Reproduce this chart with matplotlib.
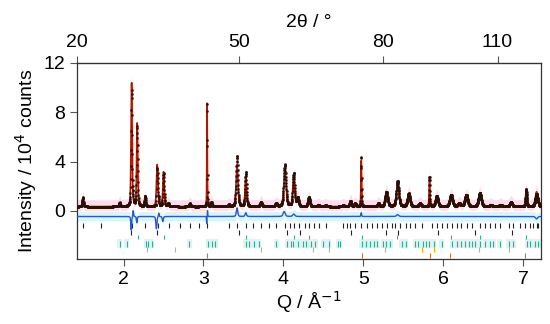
import numpy as np
import matplotlib
matplotlib.use('Agg')
import matplotlib.pyplot as plt

plt.rcParams['font.family'] = ['Liberation Sans', 'DejaVu Sans']

wavelength = 1.5406  # Cu K-alpha, A
background = 0.35

# peaks of the calculated profile: position (1/A), height (10^4 counts), fwhm (1/A)
peak_q = [1.49, 1.95, 2.10, 2.17, 2.27, 2.42, 2.50, 2.56, 2.83, 3.045, 3.10, 3.32,
          3.42, 3.53, 3.72, 3.91, 4.02, 4.13, 4.18, 4.32, 4.44, 4.53, 4.75, 4.84,
          4.90, 4.975, 5.19, 5.29, 5.43, 5.57, 5.71, 5.83, 5.92, 6.10, 6.20, 6.29,
          6.46, 6.60, 6.72, 6.85, 7.04, 7.17]
peak_h = [0.75, 0.32, 10.1, 6.8, 0.85, 3.4, 2.8, 0.25, 0.25, 8.6, 0.35, 0.15,
          3.4, 2.5, 0.35, 0.25, 3.1, 2.5, 0.7, 0.75, 0.15, 0.1, 0.1, 0.45,
          0.25, 3.8, 0.25, 1.2, 1.9, 1.05, 0.25, 2.4, 0.85, 0.95, 0.25, 0.95,
          1.1, 0.15, 0.15, 0.35, 1.4, 1.2]
peak_w = [0.018, 0.018, 0.016, 0.016, 0.018, 0.02, 0.02, 0.018, 0.022, 0.007, 0.018, 0.022,
          0.027, 0.022, 0.027, 0.027, 0.032, 0.027, 0.027, 0.027, 0.027, 0.027, 0.027, 0.027,
          0.027, 0.009, 0.027, 0.036, 0.036, 0.036, 0.036, 0.011, 0.036, 0.04, 0.036, 0.04,
          0.04, 0.036, 0.036, 0.036, 0.018, 0.036]

# misfit features (obs - calc)
diff_q = [2.095, 2.12, 2.165, 2.41, 2.44, 2.49, 3.04, 3.05, 3.42, 3.53, 4.01, 4.13, 4.975, 5.43, 7.17]
diff_h = [-1.1, 0.5, -0.5, -1.0, 0.3, -0.4, -0.6, 0.5, 0.7, 0.3, 0.4, 0.2, 0.3, 0.15, -0.2]
diff_w = [0.012, 0.01, 0.012, 0.015, 0.01, 0.015, 0.006, 0.006, 0.02, 0.02, 0.03, 0.03, 0.01, 0.03, 0.03]
diff_offset = -0.45

# reflection markers of the phases
ticks_k1 = [1.49, 1.72, 2.10, 2.27, 2.43, 2.57, 2.70, 2.83, 2.95, 3.05, 3.32, 3.42, 3.53, 3.62,
            3.72, 3.82, 3.91, 4.02, 4.08, 4.13, 4.20, 4.27, 4.32, 4.38, 4.44, 4.53, 4.75, 4.80,
            4.84, 4.90, 4.975, 5.05, 5.11, 5.17, 5.23, 5.30, 5.36, 5.40, 5.46, 5.53, 5.59, 5.65,
            5.73, 5.86, 5.92, 5.98, 6.05, 6.11, 6.17, 6.23, 6.30, 6.36, 6.46, 6.53, 6.59, 6.65,
            6.71, 6.82, 6.88, 6.96, 7.03, 7.09, 7.13, 7.17, 7.19]
ticks_k2 = [2.09, 2.42, 3.44, 4.05, 4.21, 4.85, 5.29, 5.43, 5.94, 6.40, 6.86]
ticks_t1 = [1.95, 2.04, 2.28, 2.30, 2.35, 2.82, 3.06, 3.11, 3.15, 3.53, 3.57, 3.63, 3.69, 3.91,
            4.05, 4.09, 4.12, 4.18, 4.24, 4.28, 4.34, 4.40, 4.50, 4.57, 4.69, 4.71, 4.98, 5.03,
            5.09, 5.13, 5.17, 5.25, 5.28, 5.34, 5.48, 5.53, 5.65, 5.69, 5.75, 5.78, 5.82, 5.88,
            5.98, 6.11, 6.17, 6.23, 6.28, 6.32, 6.36, 6.40, 6.46, 6.53, 6.59, 6.63, 6.71, 6.82,
            6.88, 7.05, 7.09, 7.15, 7.19]
ticks_t2 = [2.18, 2.50, 3.53, 4.13, 4.32, 4.98, 5.42, 6.10, 6.46, 7.04]
ticks_y = [2.29, 2.64, 3.72, 4.37, 4.57, 5.27, 5.73, 5.88, 6.45, 6.83]
ticks_b = [3.05, 4.99, 5.84, 6.09, 7.02]

top_ticks = [20, 50, 80, 110]
y_ticks = [0, 4, 8, 12]


def tth2q(t):
    return 4 * np.pi * np.sin(np.radians(np.asarray(t) / 2)) / wavelength


def q2tth(q):
    s = np.clip(np.asarray(q) * wavelength / (4 * np.pi), -1, 1)
    return 2 * np.degrees(np.arcsin(s))


def pv(x, x0, w):
    g = np.exp(-4 * np.log(2) * (x - x0) ** 2 / w ** 2)
    l = 1 / (1 + 4 * (x - x0) ** 2 / w ** 2)
    return 0.6 * g + 0.4 * l


tth = np.arange(19.5, 125.0, 0.03)
q = tth2q(tth)

calc = np.full_like(q, background)
for q0, h, w in zip(peak_q, peak_h, peak_w):
    calc += h * pv(q, q0, w)
diff = np.zeros_like(q)
for q0, h, w in zip(diff_q, diff_h, diff_w):
    diff += h * pv(q, q0, w)
obs = calc + diff

fig = plt.figure(figsize=(5.5, 3.24), dpi=100)
ax = fig.add_axes([0.14, 0.2006, 0.8436, 0.605])

# shaded bands
ax.fill_between(q, calc - 0.35, calc + 0.55, color='#ffdcea', lw=0, zorder=1)
ax.fill_between(q, diff + diff_offset - 0.35, diff + diff_offset + 0.4, color='#d8f6f6', lw=0, zorder=1)
for t in ticks_t1:
    ax.fill_between([t - 0.03, t + 0.03], -3.0, -2.3, color='#d8f6f6', lw=0, zorder=1)

# reflection markers
ax.vlines(ticks_k1, -1.4, -1.0, color='#222222', lw=0.8, zorder=2)
ax.vlines(ticks_k2, -1.95, -1.55, color='#222222', lw=0.8, zorder=2)
ax.vlines(ticks_t1, -2.9, -2.45, color='#3aa890', lw=0.8, zorder=2)
ax.vlines(ticks_t2, -2.3, -1.95, color='#3aa890', lw=0.8, zorder=2)
ax.vlines(ticks_y, -3.35, -2.95, color='#e8b400', lw=0.8, zorder=2)
ax.vlines(ticks_b, -3.85, -3.45, color='#b07840', lw=0.8, zorder=2)

ax.plot(q, diff + diff_offset, color='#2a58c8', lw=1.0, zorder=3)
ax.plot(q, calc, color='#b01800', lw=1.2, zorder=4)
ax.plot(q, obs, 'o', ms=1.5, mfc='#111111', mec='#3a1000', mew=0.3, zorder=5)

ax.set_xlim(tth2q(20), tth2q(124.7))
ax.set_ylim(-3.9, 12)
ax.set_yticks(y_ticks)
ax.set_xticks([2, 3, 4, 5, 6, 7])
ax.tick_params(direction='out', length=5, width=0.8, color='#555555', labelsize=14)
for s in ax.spines.values():
    s.set_color('#333333')
    s.set_linewidth(0.9)
ax.set_xlabel('Q / Å$^{-1}$', fontsize=14, labelpad=1)
ax.set_ylabel('Intensity / 10$^4$ counts', fontsize=14, labelpad=3)

top = ax.secondary_xaxis('top', functions=(q2tth, tth2q))
top.set_xticks(top_ticks)
top.tick_params(direction='out', length=5, width=0.8, color='#555555', labelsize=14)
top.set_xlabel('2θ / °', fontsize=14, labelpad=5)

fig.savefig('out.png', dpi=100)
